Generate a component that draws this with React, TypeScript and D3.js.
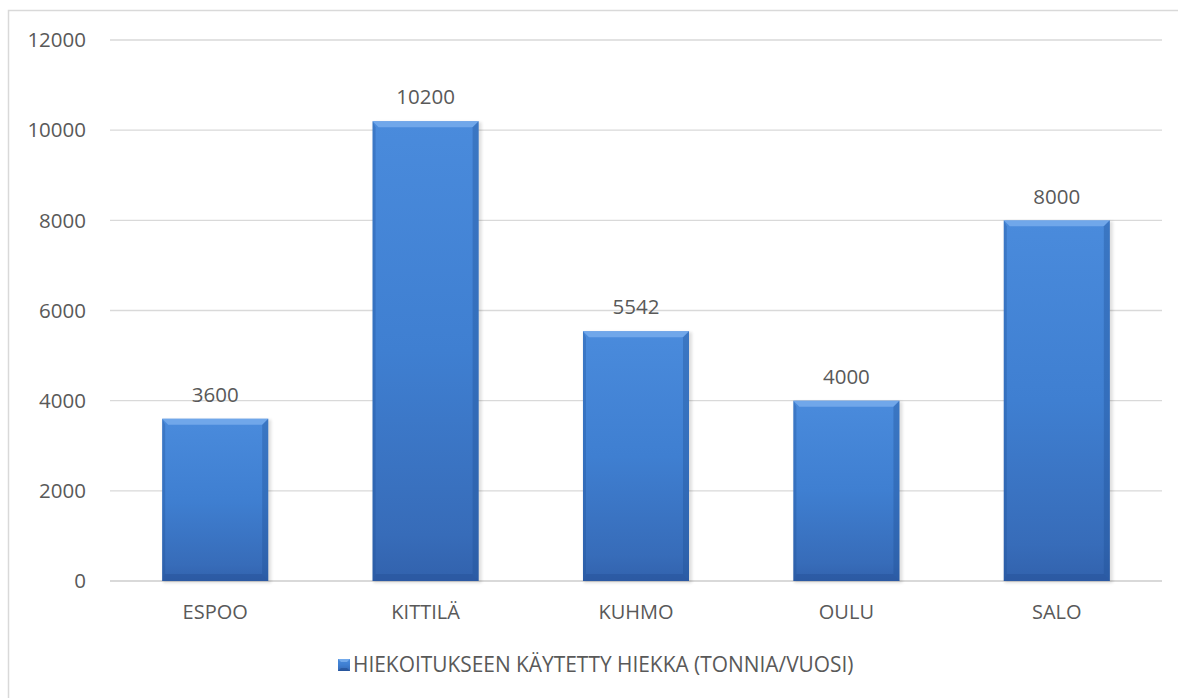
import React from "react";
import * as d3 from "d3";

const categories = ["ESPOO", "KITTILÄ", "KUHMO", "OULU", "SALO"];
const values = [3600, 10200, 5542, 4000, 8000];
const yTicks = [0, 2000, 4000, 6000, 8000, 10000, 12000];
const seriesName = "HIEKOITUKSEEN KÄYTETTY HIEKKA (TONNIA/VUOSI)";

const W = 1178;
const H = 698;
const plot = { left: 110, right: 1162, top: 40, bottom: 581 };
const FONT = "'Open Sans', Lato, sans-serif";
const TEXT = "#595959";

function Bar({ x, y, w, h }: { x: number; y: number; w: number; h: number }) {
  const b = 6;
  const bb = 7;
  return (
    <g>
      <rect x={x + 1} y={y + 1} width={w + 2} height={h + 1} fill="#000" opacity={0.12} filter="url(#blur)" />
      <rect x={x} y={y} width={w} height={h} fill="url(#barGrad)" />
      <polygon points={`${x},${y} ${x + w},${y} ${x + w - b},${y + b} ${x + b},${y + b}`} fill="#8fc0f5" opacity={0.55} />
      <polygon points={`${x},${y} ${x + b / 2},${y + b} ${x + b / 2},${y + h - bb} ${x},${y + h}`} fill="#1f4f95" opacity={0.3} />
      <polygon points={`${x + w},${y} ${x + w - b},${y + b} ${x + w - b},${y + h - bb} ${x + w},${y + h}`} fill="#1f4f95" opacity={0.35} />
      <polygon points={`${x},${y + h} ${x + b / 2},${y + h - bb} ${x + w - b},${y + h - bb} ${x + w},${y + h}`} fill="#1c4688" opacity={0.28} />
    </g>
  );
}

export default function App() {
  const x = d3.scaleBand<string>().domain(categories).range([plot.left, plot.right]).paddingInner(0.496).paddingOuter(0.248);
  const y = d3.scaleLinear().domain([0, 12000]).range([plot.bottom, plot.top]);
  const bw = x.bandwidth();

  return (
    <div style={{ position: "fixed", left: 0, top: 0 }}>
      <svg width={W} height={H} style={{ display: "block", background: "#fff" }}>
        <defs>
          <linearGradient id="barGrad" x1="0" y1="0" x2="0" y2="1">
            <stop offset="0" stopColor="#4a8bdc" />
            <stop offset="0.5" stopColor="#3f7fd1" />
            <stop offset="0.9" stopColor="#376cb9" />
            <stop offset="1" stopColor="#3262ad" />
          </linearGradient>
          <filter id="blur" x="-10%" y="-10%" width="120%" height="120%">
            <feGaussianBlur stdDeviation="1.5" />
          </filter>
        </defs>
        <rect x={8.5} y={10.5} width={W + 20} height={H + 20} fill="none" stroke="#d9d9d9" strokeWidth={1.5} />
        {yTicks.map((t) => (
          <g key={t}>
            <line x1={plot.left} x2={plot.right} y1={y(t)} y2={y(t)} stroke="#d9d9d9" strokeWidth={t === 0 ? 2 : 1.3} />
            <text x={86} y={y(t)} dy="0.35em" textAnchor="end" fontFamily={FONT} fontSize={20.5} fill={TEXT}>
              {t}
            </text>
          </g>
        ))}
        {categories.map((c, i) => {
          const bx = x(c)!;
          const by = y(values[i]);
          return (
            <g key={c}>
              <Bar x={bx} y={by} w={bw} h={y(0) - by} />
              <text x={bx + bw / 2} y={by - 24} dy="0.35em" textAnchor="middle" fontFamily={FONT} fontSize={20.5} fill={TEXT}>
                {values[i]}
              </text>
              <text x={bx + bw / 2} y={612} dy="0.35em" textAnchor="middle" fontFamily={FONT} fontSize={20} fill={TEXT}>
                {c}
              </text>
            </g>
          );
        })}
        <g>
          <rect x={338} y={659} width={12} height={12} fill="url(#barGrad)" />
          <polygon points="338,659 350,659 347,662 341,662" fill="#8fc0f5" opacity={0.6} />
          <polygon points="338,671 341,668 347,668 350,671" fill="#1c4688" opacity={0.5} />
          <text x={353} y={665} dy="0.35em" fontFamily={FONT} fontSize={20.9} fill={TEXT}>
            {seriesName}
          </text>
        </g>
      </svg>
    </div>
  );
}
